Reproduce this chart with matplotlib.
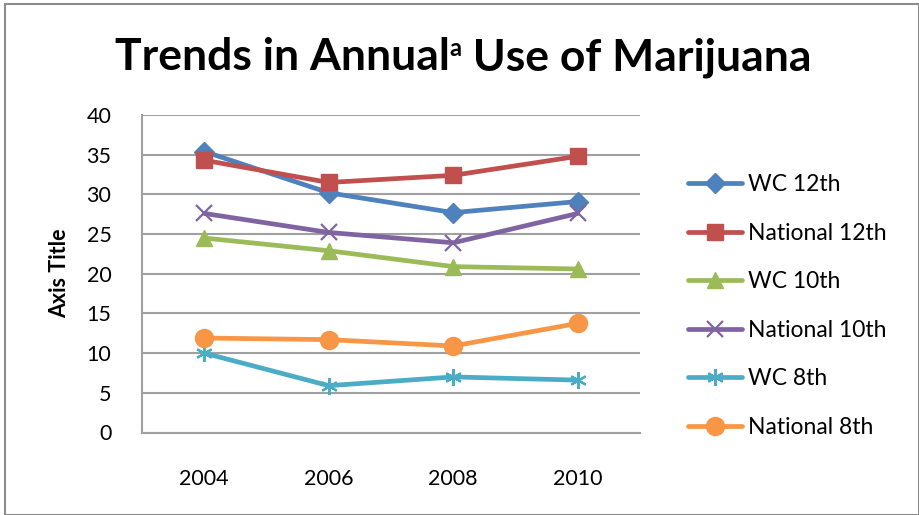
import matplotlib
matplotlib.use("Agg")
import matplotlib.pyplot as plt
from matplotlib.patches import Rectangle

years = ["2004", "2006", "2008", "2010"]
wc_12 = [35.4, 30.2, 27.7, 29.1]
nat_12 = [34.3, 31.5, 32.4, 34.8]
wc_10 = [24.5, 22.9, 20.9, 20.6]
nat_10 = [27.6, 25.2, 23.9, 27.6]
wc_8 = [10.0, 5.9, 7.0, 6.6]
nat_8 = [11.9, 11.7, 10.9, 13.75]
y_ticks = [0, 5, 10, 15, 20, 25, 30, 35, 40]

series = [
    ("WC 12th", wc_12, "#4F81BD", "D", 10),
    ("National 12th", nat_12, "#C0504D", "s", 12),
    ("WC 10th", wc_10, "#9BBB59", "^", 12),
    ("National 10th", nat_10, "#8064A2", "x", 11),
    ("WC 8th", wc_8, "#4BACC6", "*", 12),
    ("National 8th", nat_8, "#F79646", "o", 13),
]

plt.rcParams['font.family'] = ['Lato', 'DejaVu Sans']

fig = plt.figure(figsize=(9.2, 5.15), dpi=100)
fig.patches.append(Rectangle((5/920, 0), 1 - 6/920, 1 - 4/515, transform=fig.transFigure,
                             fill=False, edgecolor="#8C8C8C", linewidth=1.5))
ax = fig.add_axes([142/920, 1 - 432.5/515, (640-142)/920, (432.5-115)/515])

xs = list(range(len(years)))
handles = []
for name, vals, color, marker, ms in series:
    if marker == "*":
        h, = ax.plot(xs, vals, color=color, lw=3.4, marker=(6, 2, 0), ms=ms,
                     mew=1.6, mec=color, label=name, solid_capstyle="round")
    elif marker == "x":
        h, = ax.plot(xs, vals, color=color, lw=3.4, marker="x", ms=ms,
                     mew=1.6, mec=color, label=name, solid_capstyle="round")
    else:
        h, = ax.plot(xs, vals, color=color, lw=3.4, marker=marker, ms=ms,
                     mec=color, mfc=color, label=name, solid_capstyle="round")
    handles.append(h)

ax.set_xlim(-0.5, len(years) - 0.5)
ax.set_ylim(0, 40)
ax.set_yticks(y_ticks)
ax.set_xticks(xs)
ax.set_xticklabels(years)
ax.tick_params(axis="both", labelsize=15.5, length=0, colors="#000000")
ax.tick_params(axis="y", pad=22)
ax.tick_params(axis="x", pad=26)
ax.grid(axis="y", color="#A0A0A0", linewidth=1.5)
ax.set_axisbelow(True)
for s in ["top", "right"]:
    ax.spines[s].set_visible(False)
for s in ["left", "bottom"]:
    ax.spines[s].set_color("#A0A0A0")
    ax.spines[s].set_linewidth(1.5)

ax.set_ylabel("Axis Title", fontsize=15.5, fontweight="bold", labelpad=12)

# Title with a small superscript "a"
renderer = fig.canvas.get_renderer()
title_size = 32
parts = [("Trends in Annual", title_size, 0), ("a", 17, 14), (" Use of Marijuana", title_size, 0)]
widths = []
for txt, sz, dy in parts:
    t = fig.text(0, 0, txt, fontsize=sz, fontweight="bold")
    widths.append(t.get_window_extent(renderer).width)
    t.remove()
total = sum(widths)
x = 463 - total / 2
base_y = 515 - 70
for (txt, sz, dy), w in zip(parts, widths):
    fig.text(x / 920, (base_y + dy) / 515, txt, fontsize=sz, fontweight="bold",
             ha="left", va="baseline")
    x += w

leg = fig.legend(handles=handles, loc="upper left", bbox_to_anchor=(679/920, 1 - 165/515),
                 frameon=False, fontsize=16.5, handlelength=2.35, labelspacing=1.2,
                 handletextpad=0.25, borderaxespad=0)

fig.savefig("out.png", dpi=100)
